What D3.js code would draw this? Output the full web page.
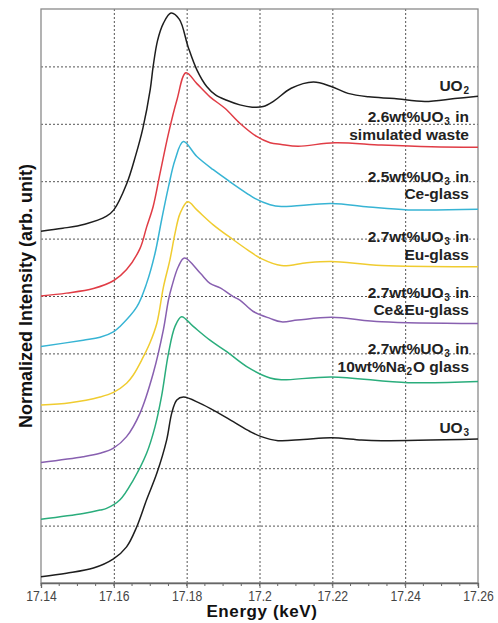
<!DOCTYPE html>
<html>
<head>
<meta charset="utf-8">
<script src="https://cdn.jsdelivr.net/npm/d3@7"></script>
<style>
  body { margin: 0; background: #fff; }
  svg { display: block; }
</style>
</head>
<body>
<div id="chart"></div>
<script>
// spectra: [energy keV, stacked intensity]
const uo2 = [[17.14,6.13],[17.146,6.18],[17.152,6.25],[17.158,6.39],[17.16,6.5],[17.1635,6.95],[17.166,7.45],[17.168,7.93],[17.17,8.6],[17.1708,9.0],[17.172,9.45],[17.1736,9.75],[17.1757,9.93],[17.178,9.82],[17.1804,9.34],[17.1828,8.94],[17.1855,8.65],[17.188,8.5],[17.191,8.41],[17.1946,8.33],[17.198,8.29],[17.201,8.3],[17.204,8.4],[17.2087,8.62],[17.2148,8.73],[17.2197,8.65],[17.2243,8.53],[17.23,8.47],[17.237,8.44],[17.2454,8.39],[17.2536,8.44],[17.26,8.48]];
const waste = [[17.14,5.0],[17.147,5.05],[17.1544,5.13],[17.16,5.27],[17.1635,5.46],[17.1672,5.83],[17.169,6.2],[17.1708,6.56],[17.1727,7.14],[17.175,7.83],[17.1773,8.41],[17.1798,8.89],[17.1828,8.7],[17.1864,8.47],[17.1905,8.27],[17.1946,8.01],[17.1992,7.78],[17.2029,7.67],[17.206,7.64],[17.2106,7.61],[17.2207,7.67],[17.2335,7.63],[17.2472,7.6],[17.26,7.59]];
const ceGlass = [[17.14,4.12],[17.1516,4.23],[17.1562,4.28],[17.16,4.38],[17.1617,4.47],[17.1663,4.81],[17.169,5.22],[17.1713,5.74],[17.1731,6.32],[17.175,6.9],[17.1768,7.37],[17.1791,7.69],[17.1828,7.43],[17.1873,7.2],[17.1919,6.99],[17.1965,6.79],[17.1987,6.7],[17.2029,6.59],[17.206,6.56],[17.2197,6.61],[17.23,6.55],[17.2408,6.5],[17.26,6.51]];
const euGlass = [[17.14,3.1],[17.148,3.14],[17.1562,3.24],[17.1599,3.32],[17.1635,3.48],[17.1653,3.62],[17.1677,3.89],[17.1699,4.18],[17.1718,4.52],[17.1736,5.15],[17.1754,5.63],[17.1768,6.09],[17.1782,6.44],[17.1803,6.64],[17.1828,6.5],[17.1873,6.24],[17.1928,5.98],[17.1968,5.8],[17.2005,5.65],[17.206,5.53],[17.213,5.58],[17.2197,5.6],[17.2335,5.53],[17.26,5.51]];
const ceEuGlass = [[17.14,2.1],[17.1516,2.2],[17.1562,2.26],[17.1599,2.35],[17.1635,2.55],[17.1672,2.96],[17.1708,3.65],[17.1736,4.41],[17.175,4.93],[17.1759,5.16],[17.1777,5.51],[17.1794,5.66],[17.1837,5.4],[17.1864,5.22],[17.1892,5.14],[17.1928,4.99],[17.1946,4.93],[17.1983,4.73],[17.2029,4.61],[17.206,4.55],[17.2105,4.58],[17.2197,4.63],[17.2335,4.55],[17.26,4.52]];
const naGlass = [[17.14,1.11],[17.1516,1.21],[17.1562,1.27],[17.158,1.3],[17.1617,1.45],[17.1653,1.79],[17.169,2.26],[17.1713,2.72],[17.1731,3.25],[17.175,4.0],[17.1768,4.47],[17.1786,4.64],[17.1818,4.47],[17.1864,4.23],[17.191,4.03],[17.1965,3.77],[17.2029,3.57],[17.206,3.54],[17.2197,3.59],[17.2408,3.49],[17.26,3.51]];
const uo3 = [[17.14,0.11],[17.147,0.17],[17.1544,0.26],[17.1599,0.42],[17.1635,0.63],[17.1663,0.98],[17.169,1.45],[17.1718,1.91],[17.1745,2.49],[17.1759,2.96],[17.1773,3.19],[17.1791,3.24],[17.1837,3.13],[17.1882,2.98],[17.1928,2.81],[17.1974,2.64],[17.2005,2.55],[17.2051,2.48],[17.212,2.5],[17.2197,2.53],[17.228,2.49],[17.2335,2.48],[17.26,2.51]];

const seriesData = [uo2, waste, ceGlass, euGlass, ceEuGlass, naGlass, uo3];
const seriesColors = ["#1e1e1e", "#e03c45", "#37b4d4", "#f0cc30", "#8860b0", "#2aad7c", "#1e1e1e"];
// labels: lines of text ({n} = subscript), and the intensity where the last line sits
const labelLines = [
  ["UO{2}"],
  ["2.6wt%UO{3} in", "simulated waste"],
  ["2.5wt%UO{3} in", "Ce-glass"],
  ["2.7wt%UO{3} in", "Eu-glass"],
  ["2.7wt%UO{3} in", "Ce&Eu-glass"],
  ["2.7wt%UO{3} in", "10wt%Na{2}O glass"],
  ["UO{3}"]
];
const labelY = [8.57, 7.72, 6.69, 5.63, 4.67, 3.68, 2.61];

const xTicks = [17.14, 17.16, 17.18, 17.2, 17.22, 17.24, 17.26];
const xTickLabels = ["17.14", "17.16", "17.18", "17.2", "17.22", "17.24", "17.26"];
const xMinor = d3.range(0, 25).map(i => 17.14 + i * 0.005);
const yGrid = d3.range(1, 10);

const W = 498, H = 623;
const M = {left: 41, right: 20, top: 9, bottom: 40};
const FONT = "Liberation Sans, Arial, sans-serif";
const LINE_H = 17.4;

const svg = d3.select("#chart").append("svg")
    .attr("width", W)
    .attr("height", H);

const x = d3.scaleLinear().domain([17.14, 17.26]).range([M.left, W - M.right]);
const y = d3.scaleLinear().domain([0, 10]).range([H - M.bottom, M.top]);

// grid
const grid = svg.append("g").attr("stroke", "#555").attr("stroke-width", 1).attr("stroke-dasharray", "2,2");
grid.selectAll(".vg").data(xTicks.slice(1, -1)).enter().append("line")
    .attr("x1", d => x(d) + 0.5).attr("x2", d => x(d) + 0.5)
    .attr("y1", y(10)).attr("y2", y(0));
grid.selectAll(".hg").data(yGrid).enter().append("line")
    .attr("x1", x(17.14)).attr("x2", x(17.26))
    .attr("y1", d => y(d) + 0.5).attr("y2", d => y(d) + 0.5);

// frame
svg.append("rect")
    .attr("x", x(17.14)).attr("y", y(10))
    .attr("width", x(17.26) - x(17.14)).attr("height", y(0) - y(10))
    .attr("fill", "none").attr("stroke", "#8a8a8a").attr("stroke-width", 1.3);

// x axis
const xAxis = d3.axisBottom(x)
    .tickValues(xTicks)
    .tickFormat((d, i) => xTickLabels[i])
    .tickSize(5).tickPadding(3);
const xG = svg.append("g").attr("transform", `translate(0, ${y(0)})`).call(xAxis);
xG.select(".domain").attr("stroke", "#666").attr("stroke-width", 1.3);
xG.selectAll(".tick line").attr("stroke", "#666");
xG.selectAll("text")
    .attr("font-family", FONT)
    .attr("font-size", 14).attr("fill", "#444")
    .attr("transform", "scale(0.87,1)");
svg.append("g").attr("transform", `translate(0, ${y(0)})`)
    .selectAll("line").data(xMinor).enter().append("line")
    .attr("x1", d => x(d)).attr("x2", d => x(d))
    .attr("y1", 0).attr("y2", 3)
    .attr("stroke", "#666");

// spectra
const line = d3.line().x(d => x(d[0])).y(d => y(d[1])).curve(d3.curveCatmullRom.alpha(0.5));
svg.append("g").selectAll("path").data(seriesData).enter().append("path")
    .attr("d", line)
    .attr("fill", "none")
    .attr("stroke", (d, i) => seriesColors[i])
    .attr("stroke-width", 1.5);

// labels: one text per label, each line starts with an absolute-y tspan
const labels = svg.append("g")
    .attr("font-family", FONT)
    .attr("font-weight", "bold").attr("font-size", 15.5)
    .attr("fill", "#222").attr("text-anchor", "end");
labelLines.forEach((lines, i) => {
  const t = labels.append("text");
  const top = y(labelY[i]) - (lines.length - 1) * LINE_H;
  lines.forEach((str, j) => {
    let shift = 0;
    str.split(/(\{\d\})/).filter(s => s.length).forEach((part, k) => {
      const ts = t.append("tspan");
      if (k === 0) ts.attr("x", 469).attr("y", top + j * LINE_H);
      const sub = part.match(/^\{(\d)\}$/);
      if (sub) {
        ts.attr("font-size", 10).attr("dx", 0.8).attr("dy", 3).text(sub[1]);
        shift = 3;
      } else {
        if (shift) ts.attr("dx", 1).attr("dy", -shift);
        ts.text(part);
        shift = 0;
      }
    });
  });
});

// axis titles
svg.append("text")
    .attr("x", 262).attr("y", 617)
    .attr("text-anchor", "middle")
    .attr("font-family", FONT)
    .attr("font-weight", "bold").attr("font-size", 17).attr("fill", "#111")
    .attr("letter-spacing", 0.6)
    .text("Energy (keV)");
svg.append("text")
    .attr("transform", "translate(32, 296) rotate(-90)")
    .attr("text-anchor", "middle")
    .attr("font-family", FONT)
    .attr("font-weight", "bold").attr("font-size", 18).attr("fill", "#111")
    .text("Normalized Intensity (arb. unit)");
</script>
</body>
</html>
